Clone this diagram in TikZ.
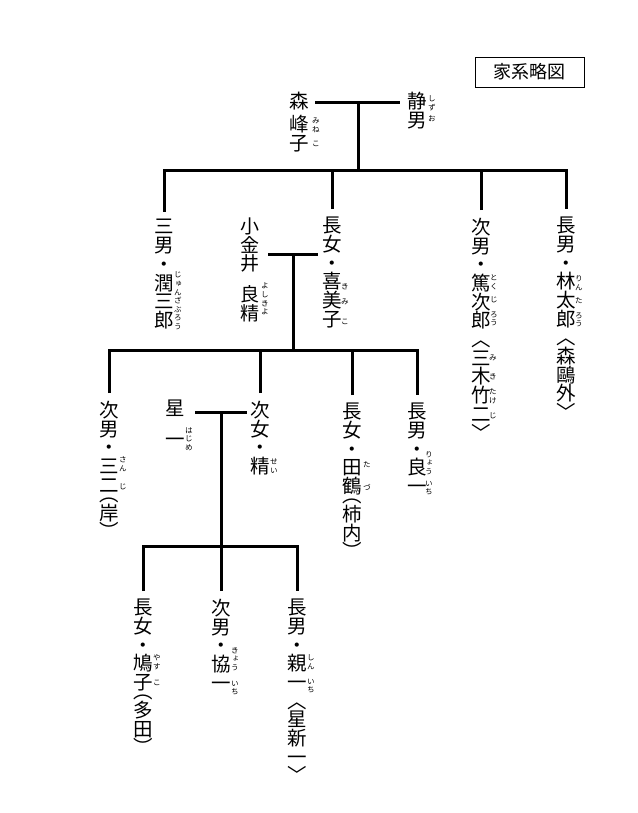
\documentclass[tikz,border=0pt]{standalone}
\usepackage{fontspec}
\newfontfamily\jp{Noto Sans CJK JP}
\newfontfamily\jpv[RawFeature=+vert]{Noto Sans CJK JP}
\tikzset{
  col/.style={font=\jpv\fontsize{19.5}{18.7}\selectfont, align=center, inner sep=0pt, outer xsep=0pt, outer ysep=8pt, anchor=north},
  rb/.style={font=\jpv\fontsize{7.6}{8.6}\selectfont, align=center, inner sep=0pt},
  tree/.style={line width=3pt, line join=miter},
  titlebox/.style={draw, line width=0.9pt, minimum width=109pt, minimum height=30pt, inner sep=0pt, font=\jp\fontsize{18}{18}\selectfont},
}
\begin{document}
\begin{tikzpicture}[x=1pt,y=-1pt]
\fill[white] (0,0) rectangle (637,813);
\useasboundingbox (0,0) rectangle (637,813);

% title
\node[titlebox] (title) at (529.5,72) {家系略図};

% generation 0
\node[col] (mineko) at (299,84) {森\\[4.5pt]峰\\子};
\node[col] (shizuo) at (417,84) {静\\男};
\node[rb] (r-mine) at (316,125) {み\\ね};
\node[rb] (r-ko0) at (316,144) {こ};
\node[rb] (r-shizu) at (432,103) {し\\ず};
\node[rb] (r-o) at (432,119) {お};

% generation 1
\node[col] (junzaburo) at (164,211.5) {三\\男\\・\\潤\\三\\郎};
\node[col, font=\jpv\fontsize{19}{16.5}\selectfont] (yoshikiyo) at (250,210) {小\\金\\井\\[13pt]良\\精};
\node[col] (kimiko) at (332,209) {長\\女\\・\\喜\\美\\子};
\node[col] (tokujiro) at (481,210) {次\\男\\・\\篤\\次\\郎\\︿\\三\\木\\竹\\二\\﹀};
\node[col] (rintaro) at (566,209) {長\\男\\・\\林\\太\\郎\\︿\\森\\鷗\\外\\﹀};

\node[rb] (r-jun) at (178,301) {じ\\ゅ\\ん\\ざ\\ぶ\\ろ\\う};
\node[rb] (r-yoshi) at (265,299) {よ\\し\\き\\よ};
\node[rb] (r-ki) at (345,287) {き};
\node[rb] (r-mi) at (345,302) {み};
\node[rb] (r-ko1) at (345,322) {こ};
\node[rb] (r-toku) at (494,282) {と\\く};
\node[rb] (r-ji1) at (494,300) {じ};
\node[rb] (r-rou1) at (494,319) {ろ\\う};
\node[rb] (r-mi2) at (493,358) {み};
\node[rb] (r-ki2) at (493,377) {き};
\node[rb] (r-take) at (493,396) {た\\け};
\node[rb] (r-ji2) at (493,416) {じ};
\node[rb] (r-rin) at (579,283) {り\\ん};
\node[rb] (r-ta) at (579,301) {た};
\node[rb] (r-rou2) at (579,320) {ろ\\う};

% generation 2
\node[col] (sanji) at (109,393) {次\\男\\・\\三\\二\\[-9.4pt]︵\\岸\\︶};
\node[col] (hoshi) at (175,392) {星\\[12pt]一};
\node[col] (sei) at (260,393) {次\\女\\・\\精};
\node[col] (tazu) at (352,395) {長\\女\\・\\田\\鶴\\[-9.4pt]︵\\柿\\内\\︶};
\node[col] (ryoichi) at (417,395) {長\\男\\・\\良\\一};

\node[rb] (r-san) at (123,464) {さ\\ん};
\node[rb] (r-ji3) at (123,487) {じ};
\node[rb] (r-hajime) at (189,439) {は\\じ\\め};
\node[rb] (r-sei) at (274,466) {せ\\い};
\node[rb] (r-ta2) at (367,465) {た};
\node[rb] (r-zu) at (367,487) {づ};
\node[rb] (r-ryou) at (429,463) {り\\ょ\\う};
\node[rb] (r-ichi1) at (429,488) {い\\ち};

% generation 3
\node[col] (yasuko) at (143,591) {長\\女\\・\\鳩\\子\\[-9.4pt]︵\\多\\田\\︶};
\node[col] (kyoichi) at (221,591) {次\\男\\・\\協\\一};
\node[col] (shinichi) at (297,591) {長\\男\\・\\親\\一\\︿\\星\\新\\一\\﹀};

\node[rb] (r-yasu) at (157,662) {や\\す};
\node[rb] (r-ko3) at (157,683) {こ};
\node[rb] (r-kyou) at (235,659) {き\\ょ\\う};
\node[rb] (r-ichi2) at (235,688) {い\\ち};
\node[rb] (r-shin) at (311,662) {し\\ん};
\node[rb] (r-ichi3) at (311,686) {い\\ち};

% junctions
\coordinate (m0l) at (315,103);
\coordinate (m0r) at (400,103);
\coordinate (m0) at (358,103);
\coordinate (j1) at (358,171);
\coordinate (m1l) at (268,254);
\coordinate (m1r) at (318,254);
\coordinate (m1) at (293,254);
\coordinate (j2) at (293,350);
\coordinate (m2l) at (195,412);
\coordinate (m2r) at (247,412);
\coordinate (m2) at (221,412);
\coordinate (j3) at (221,546);

% lines, generation 0 -> 1
\draw[tree] (m0l) -- (m0r);
\draw[tree] (m0) -- (j1);
\draw[tree] (junzaburo.north) -- (junzaburo.north |- j1) -- (rintaro.north |- j1) -- (rintaro.north);
\draw[tree] (kimiko.north) -- (kimiko.north |- j1);
\draw[tree] (tokujiro.north) -- (tokujiro.north |- j1);

% generation 1 -> 2
\draw[tree] (m1l) -- (m1r);
\draw[tree] (m1) -- (j2);
\draw[tree] (sanji.north) -- (sanji.north |- j2) -- (ryoichi.north |- j2) -- (ryoichi.north);
\draw[tree] (sei.north) -- (sei.north |- j2);
\draw[tree] (tazu.north) -- (tazu.north |- j2);

% generation 2 -> 3
\draw[tree] (m2l) -- (m2r);
\draw[tree] (m2) -- (j3);
\draw[tree] (yasuko.north) -- (yasuko.north |- j3) -- (shinichi.north |- j3) -- (shinichi.north);
\draw[tree] (kyoichi.north) -- (kyoichi.north |- j3);
\end{tikzpicture}
\end{document}
